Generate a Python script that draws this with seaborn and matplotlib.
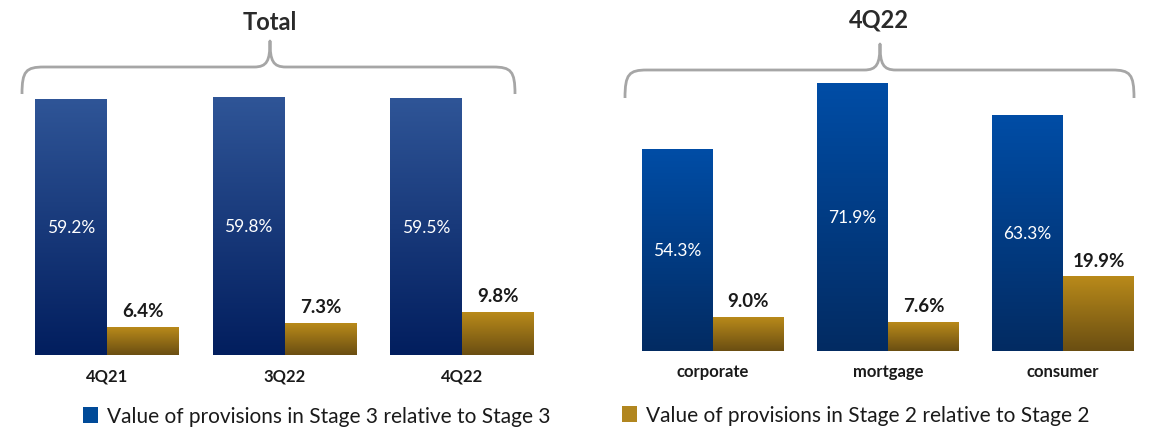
import numpy as np
import pandas as pd
import matplotlib
matplotlib.use("Agg")
import matplotlib.pyplot as plt
from matplotlib.colors import LinearSegmentedColormap
from matplotlib.patches import Patch, PathPatch
from matplotlib.path import Path
import seaborn as sns

# ---- data -------------------------------------------------------------
total_periods = ["4Q21", "3Q22", "4Q22"]
total_stage3 = [59.2, 59.8, 59.5]
total_stage2 = [6.4, 7.3, 9.8]

segments = ["corporate", "mortgage", "consumer"]
segment_stage3 = [54.3, 71.9, 63.3]
segment_stage2 = [9.0, 7.6, 19.9]

stage_names = ["Value of provisions in Stage 3 relative to Stage 3",
               "Value of provisions in Stage 2 relative to Stage 2"]
panel_titles = ["Total", "4Q22"]

# ---- style ------------------------------------------------------------
sns.set_theme(style="white")
plt.rcParams["font.family"] = ["Lato", "DejaVu Sans"]

W, H = 1151, 431
DARK = "#1a1a1a"
GOLD_TOP, GOLD_BOT = "#b98a1a", "#6a4e12"
BLUE_L_TOP, BLUE_L_BOT = "#2f5597", "#021e5e"
BLUE_R_TOP, BLUE_R_BOT = "#004da6", "#032b62"
BRACE = "#a6a6a6"

fig = plt.figure(figsize=(W / 100, H / 100), dpi=100)


def px_axes(left, baseline, width, height):
    """Axes placed in pixel units (top-left origin for the baseline)."""
    return fig.add_axes([left / W, (H - baseline) / H, width / W, height / H])


def gradient_bars(ax, container, top, bottom):
    cmap = LinearSegmentedColormap.from_list("g", [bottom, top])
    grad = np.linspace(0, 1, 256).reshape(-1, 1)
    xl, yl = ax.get_xlim(), ax.get_ylim()
    for bar in container:
        x0, y0 = bar.get_x(), bar.get_y()
        w, h = bar.get_width(), bar.get_height()
        ax.imshow(grad, extent=[x0, x0 + w, y0, y0 + h], origin="lower",
                  cmap=cmap, aspect="auto", zorder=bar.get_zorder(),
                  interpolation="bilinear")
        bar.set_facecolor("none")
        bar.set_edgecolor("none")
    ax.set_xlim(xl)
    ax.set_ylim(yl)


def panel(ax, cats, s3, s2, ytop, blue_top, blue_bot):
    df = pd.DataFrame({
        "cat": cats * 2,
        "stage": [stage_names[0]] * len(cats) + [stage_names[1]] * len(cats),
        "value": s3 + s2,
    })
    sns.barplot(data=df, x="cat", y="value", hue="stage", order=cats,
                hue_order=stage_names, palette=[blue_top, GOLD_TOP],
                width=0.81, gap=0, saturation=1, legend=False, ax=ax)
    ax.set_xlim(-0.5, len(cats) - 0.5)
    ax.set_ylim(0, ytop)
    c3, c2 = ax.containers[0], ax.containers[1]
    gradient_bars(ax, c3, blue_top, blue_bot)
    gradient_bars(ax, c2, GOLD_TOP, GOLD_BOT)
    ax.bar_label(c3, labels=[f"{v:.1f}%" for v in s3], label_type="center",
                 color="white", fontsize=12.5)
    ax.bar_label(c2, labels=[f"{v:.1f}%" for v in s2], label_type="edge",
                 padding=6, color=DARK, fontsize=13.5, fontweight="bold")
    ax.set_xlabel("")
    ax.set_ylabel("")
    ax.set_yticks([])
    ax.tick_params(axis="x", length=0, pad=9)
    for lab in ax.get_xticklabels():
        lab.set_fontsize(12)
        lab.set_fontweight("bold")
        lab.set_color(DARK)
    for s in ax.spines.values():
        s.set_visible(False)
    ax.set_facecolor("none")


ax_left = px_axes(18.25, 356, 532.5, 300)
panel(ax_left, total_periods, total_stage3, total_stage2, 300 / 4.31,
      BLUE_L_TOP, BLUE_L_BOT)

ax_right = px_axes(625.5, 352, 525, 300)
panel(ax_right, segments, segment_stage3, segment_stage2, 300 / 3.72,
      BLUE_R_TOP, BLUE_R_BOT)

# ---- braces and titles ------------------------------------------------
ov = fig.add_axes([0, 0, 1, 1], zorder=-1)
ov.set_xlim(0, W)
ov.set_ylim(H, 0)
ov.axis("off")


def brace(x0, x1, xc, y_end, y_h, y_tip, r=22, r2=16):
    M, L, C = Path.MOVETO, Path.LINETO, Path.CURVE4
    verts = [(x0, y_end),
             (x0, y_h + 4), (x0 + 4, y_h), (x0 + r, y_h),
             (xc - r2, y_h),
             (xc - 3, y_h), (xc, y_h - 6), (xc, y_tip),
             (xc, y_h - 6), (xc + 3, y_h), (xc + r2, y_h),
             (x1 - r, y_h),
             (x1 - 4, y_h), (x1, y_h + 4), (x1, y_end)]
    codes = [M, C, C, C, L, C, C, C, C, C, C, L, C, C, C]
    ov.add_patch(PathPatch(Path(verts, codes), fill=False, edgecolor=BRACE,
                           lw=2.0, capstyle="butt", joinstyle="round"))


brace(22, 515, 270, 95, 68, 42)
brace(625, 1134, 880, 99, 71, 45)

ov.text(270, 23, panel_titles[0], ha="center", va="center", fontsize=17,
        fontweight="bold", color="#2a2a2a")
ov.text(879, 20, panel_titles[1], ha="center", va="center", fontsize=17,
        fontweight="bold", color="#2a2a2a")

# ---- legends ----------------------------------------------------------
leg_kw = dict(frameon=False, fontsize=15, handlelength=0.72,
              handleheight=0.78, handletextpad=0.45, borderpad=0,
              borderaxespad=0, loc="center left", labelcolor=DARK)
fig.legend(handles=[Patch(facecolor="#004a98", edgecolor="none",
                          label=stage_names[0])],
           bbox_to_anchor=(83 / W, 1 - 417 / H), **leg_kw)
fig.legend(handles=[Patch(facecolor="#b1861f", edgecolor="none",
                          label=stage_names[1])],
           bbox_to_anchor=(622 / W, 1 - 416 / H), **leg_kw)

fig.savefig("out.png", dpi=100, facecolor="white")
